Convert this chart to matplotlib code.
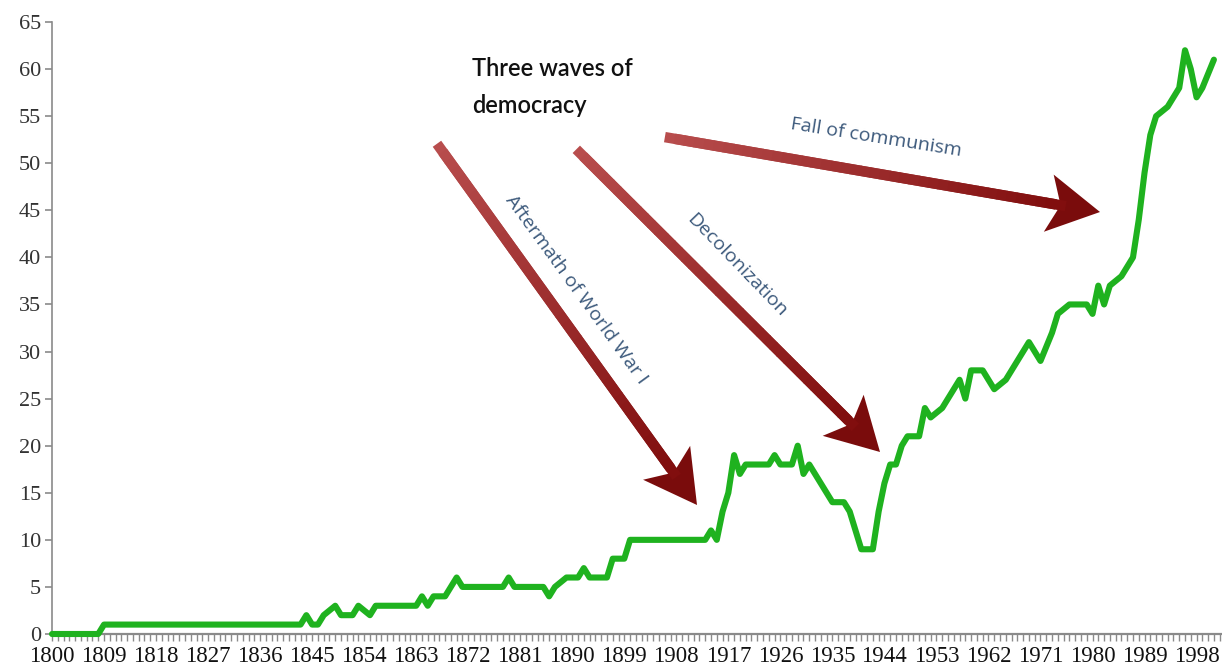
import numpy as np
import matplotlib.pyplot as plt
from matplotlib.collections import LineCollection
from matplotlib.patches import Polygon
from matplotlib.ticker import MultipleLocator

plt.rcParams['font.family'] = 'Liberation Serif'

# share of democracies (breakpoints of the line)
years = [1800, 1808, 1809, 1843, 1844, 1845, 1846, 1847, 1849, 1850, 1852, 1853,
         1855, 1856, 1863, 1864, 1865, 1866, 1868, 1870, 1871, 1878, 1879, 1880,
         1885, 1886, 1887, 1889, 1891, 1892, 1893, 1896, 1897, 1899, 1900, 1913,
         1914, 1915, 1916, 1917, 1918, 1919, 1920, 1924, 1925, 1926, 1928, 1929,
         1930, 1931, 1932, 1933, 1934, 1935, 1937, 1938, 1939, 1940, 1942, 1943,
         1944, 1945, 1946, 1947, 1948, 1950, 1951, 1952, 1954, 1955, 1957, 1958,
         1959, 1961, 1962, 1963, 1965, 1966, 1968, 1969, 1971, 1973, 1974, 1976,
         1979, 1980, 1981, 1982, 1983, 1985, 1986, 1987, 1988, 1989, 1990, 1991,
         1993, 1994, 1995, 1996, 1997, 1998, 1999, 2001]
values = [0, 0, 1, 1, 2, 1, 1, 2, 3, 2, 2, 3,
          2, 3, 3, 4, 3, 4, 4, 6, 5, 5, 6, 5,
          5, 4, 5, 6, 6, 7, 6, 6, 8, 8, 10, 10,
          11, 10, 13, 15, 19, 17, 18, 18, 19, 18, 18, 20,
          17, 18, 17, 16, 15, 14, 14, 13, 11, 9, 9, 13,
          16, 18, 18, 20, 21, 21, 24, 23, 24, 25, 27, 25,
          28, 28, 27, 26, 27, 28, 30, 31, 29, 32, 34, 35,
          35, 34, 37, 35, 37, 38, 39, 40, 44, 49, 53, 55,
          56, 57, 58, 62, 60, 57, 58, 61]

tick_years = list(range(1800, 2000, 9))
y_ticks = list(range(0, 70, 5))

# annotation arrows, in picture pixels (x from left, y from top)
arrow_tails = [(440, 148), (580, 153), (670, 138)]
arrow_tips = [(697, 505), (880, 452), (1100, 212)]
arrow_labels = ['Aftermath of World War I', 'Decolonization', 'Fall of communism']
label_pos = [(576, 290), (737, 265), (876, 138)]
label_rot = [-54, -46, -9]

W, H = 1222, 672
fig = plt.figure(figsize=(W / 100, H / 100), dpi=100)
ax = fig.add_axes([52 / W, 38 / H, 1 - 52 / W, (634 - 22) / H])

ax.plot(years, values, color='#1fb21f', lw=4.4, solid_joinstyle='round',
        solid_capstyle='round', clip_on=False, zorder=3)

ax.set_xlim(1800, 2002.4)
ax.set_ylim(0, 65)
ax.set_xticks(tick_years)
ax.set_yticks(y_ticks)
ax.xaxis.set_minor_locator(MultipleLocator(1))

for s in ['top', 'right']:
    ax.spines[s].set_visible(False)
ax.spines['left'].set_color('#8a8a8a')
ax.spines['left'].set_linewidth(1.2)
ax.spines['bottom'].set_color('#8a8a8a')
ax.spines['bottom'].set_linewidth(1.6)

ax.tick_params(axis='y', direction='out', length=5, width=1.2, color='#8a8a8a',
               labelsize=16, labelcolor='#333333', pad=3)
ax.tick_params(axis='x', which='both', direction='out', length=5, width=1.0,
               color='#8a8a8a', labelsize=16.5, labelcolor='#111111', pad=4)


def fpos(p):
    return (p[0] / W, 1 - p[1] / H)


def draw_arrow(tail, tip, shaft=7.5, head_len=52, head_w=29, notch=12):
    tail = np.array(tail, float)
    tip = np.array(tip, float)
    d = tip - tail
    u = d / np.hypot(*d)
    n = np.array([-u[1], u[0]])
    base = tip - u * head_len
    end = base + u * notch
    # shaft with a light-to-dark red shade
    t = np.linspace(0, 1, 41)
    pts = [fpos(tail + (end - tail) * k) for k in t]
    segs = [[pts[i], pts[i + 1]] for i in range(len(pts) - 1)]
    c0 = np.array([0.72, 0.30, 0.30])
    c1 = np.array([0.50, 0.05, 0.05])
    cols = [tuple(c0 + (c1 - c0) * k) for k in t[:-1]]
    lc = LineCollection(segs, colors=cols, linewidths=shaft,
                        transform=fig.transFigure, capstyle='projecting')
    fig.add_artist(lc)
    head = [tip, base + n * head_w, end, base - n * head_w]
    fig.add_artist(Polygon([fpos(p) for p in head], closed=True,
                           transform=fig.transFigure, color='#7a0c0c', lw=0))


for tail, tip in zip(arrow_tails, arrow_tips):
    draw_arrow(tail, tip)

for txt, pos, rot in zip(arrow_labels, label_pos, label_rot):
    fig.text(*fpos(pos), txt, rotation=rot, rotation_mode='anchor',
             ha='center', va='center', fontsize=14, color='#3d5a7c',
             family='Open Sans')

fig.text(*fpos((472, 57)), 'Three waves of\ndemocracy', ha='left', va='top',
         fontsize=17, family='Lato', weight='semibold', color='#111111',
         linespacing=1.75)

fig.savefig('out.png', dpi=100)
